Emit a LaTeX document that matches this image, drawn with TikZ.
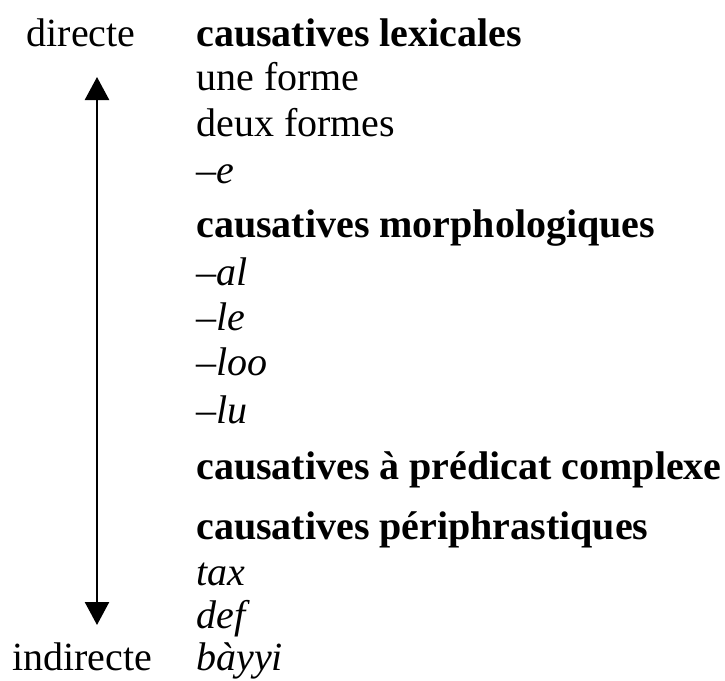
\documentclass[tikz,border=0pt]{standalone}
\usepackage{fontspec}
\setmainfont{Liberation Serif}
\usetikzlibrary{arrows.meta}
\tikzset{
  every picture/.style={line width=2.5pt},
  lbl/.style={anchor=base, inner sep=0pt, font=\fontsize{40}{46}\selectfont},
  cat/.style={anchor=base west, inner sep=0pt, font=\fontsize{40}{46}\selectfont\bfseries},
  item/.style={anchor=base west, inner sep=0pt, font=\fontsize{40}{46}\selectfont},
  form/.style={anchor=base west, inner sep=0pt, font=\fontsize{40}{46}\selectfont\itshape},
  axisarrow/.style={{Triangle[width=24pt, length=23pt]}-{Triangle[width=24pt, length=23pt]}, draw=black},
}

\begin{document}
\begin{tikzpicture}[x=1pt, y=-1pt]
  \useasboundingbox (0,0) rectangle (725,680);
  % scale of directness
  \node[lbl] (dir) at (81, 46) {directe};
  \node[lbl] (indir) at (82, 670) {indirecte};
  \coordinate (top) at (97, 77);
  \coordinate (bot) at (97, 625);
  \draw[axisarrow] (bot) -- (top);
  % lexical
  \node[cat] (lex) at (195, 46) {causatives lexicales};
  \node[item] (une) at (195, 90) {une forme};
  \node[item] (deux) at (195, 136) {deux formes};
  \node[form] (e) at (195, 183) {–e};
  % morphological
  \node[cat] (morph) at (195, 237) {causatives morphologiques};
  \node[form] (al) at (195, 285) {–al};
  \node[form] (le) at (195, 330) {–le};
  \node[form] (loo) at (195, 375) {–loo};
  \node[form] (lu) at (195, 423) {–lu};
  % complex predicate
  \node[cat] (cpx) at (195, 479) {causatives à prédicat complexe};
  % periphrastic
  \node[cat] (peri) at (195, 539) {causatives périphrastiques};
  \node[form] (tax) at (195, 585) {tax};
  \node[form] (def) at (195, 628) {def};
  \node[form] (bayyi) at (195, 670) {bàyyi};
\end{tikzpicture}
\end{document}
